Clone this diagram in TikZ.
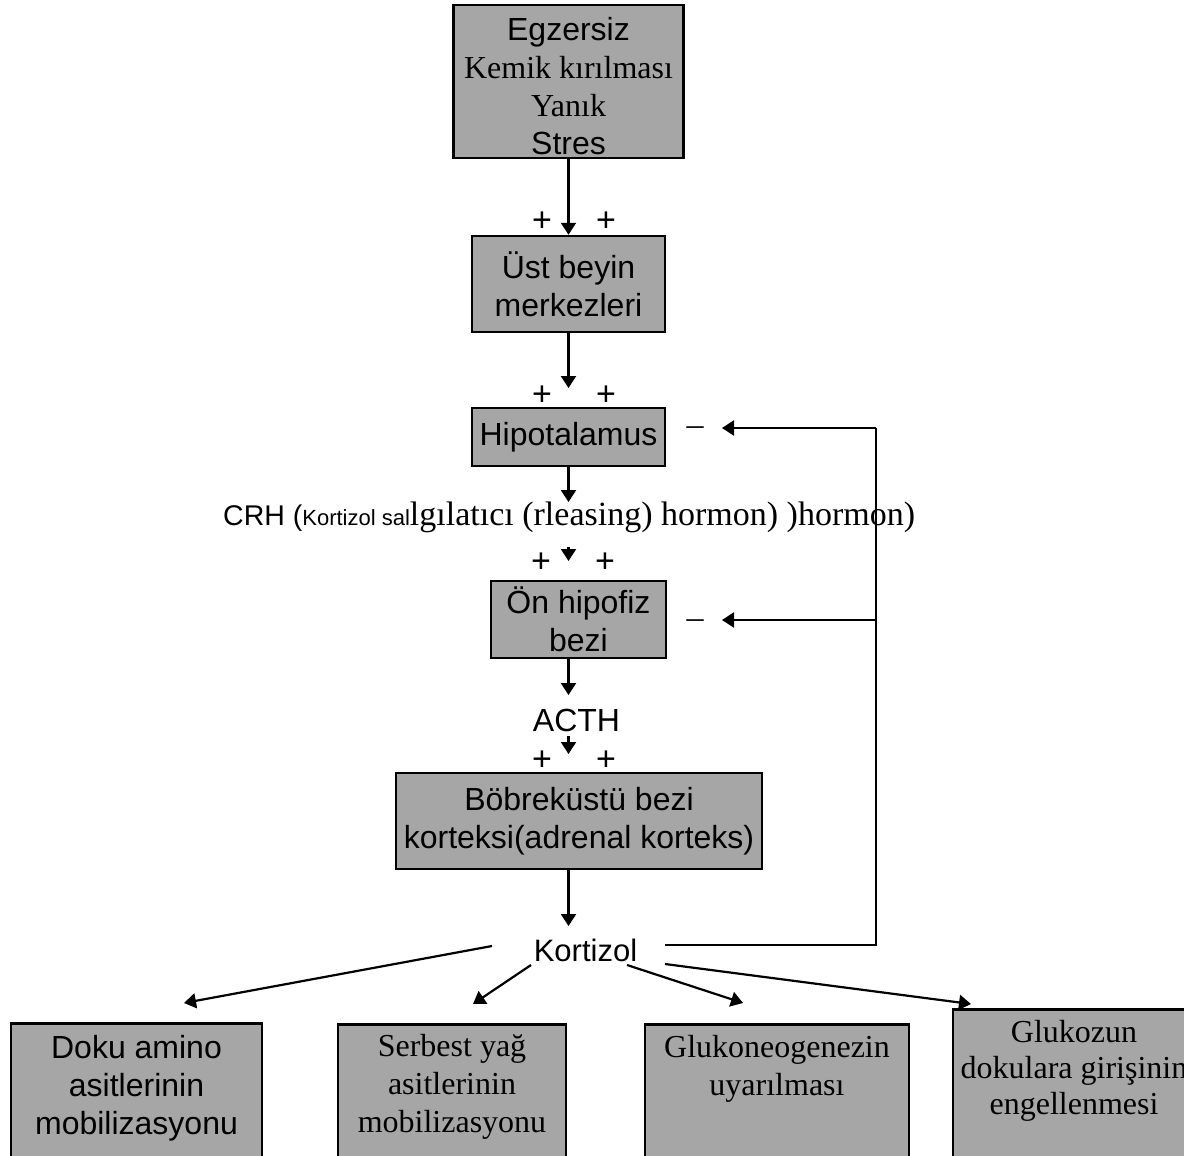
\documentclass[tikz,border=0pt]{standalone}
\usepackage{fontspec}
\setmainfont{Liberation Serif}
\newfontfamily\arialf{Liberation Sans}
\newfontfamily\tnrf{Liberation Serif}
\usetikzlibrary{arrows.meta,calc}
\definecolor{boxgray}{RGB}{166,166,166}
\begin{document}
\begin{tikzpicture}[x=1pt,y=-1pt,
  box/.style={draw=black, line width=2.5pt, fill=boxgray, inner sep=0pt, align=center},
  arr/.style={line width=2.2pt, -{Triangle[width=15pt,length=12pt]}},
  ln/.style={line width=2.2pt},
  sf/.style={font=\arialf\fontsize{32}{38}\selectfont, align=center, inner sep=0pt},
  rm/.style={font=\tnrf\fontsize{32}{38}\selectfont, align=center, inner sep=0pt},
  plus/.style={font=\arialf\fontsize{34}{36}\selectfont, inner sep=0pt},
  minus/.style={font=\tnrf\fontsize{34}{36}\selectfont, inner sep=0pt}]
\useasboundingbox (0,0) rectangle (1184,1156);
\clip (0,0) rectangle (1184,1156);

% main chain boxes
\node[box, minimum width=230pt, minimum height=153pt] (top) at (568.5,81.5) {};
\node[align=center, inner sep=0pt, font=\fontsize{32}{38}\selectfont] (topt) at (568.5,86)
  {\arialf Egzersiz\\\tnrf Kemik kırılması\\\tnrf Yanık\\\arialf Stres};
\node[box, sf, minimum width=193pt, minimum height=96pt] (ust) at (568.5,284) {Üst beyin\\merkezleri};
\node[box, sf, minimum width=193pt, minimum height=58pt] (hipo) at (568.5,437) {Hipotalamus};
\node[box, sf, minimum width=175pt, minimum height=77pt] (on) at (578.5,619.5) {Ön hipofiz\\bezi};
\node[box, sf, minimum width=366pt, minimum height=96pt] (bob) at (579,821) {Böbreküstü bezi\\korteksi(adrenal korteks)};

% labels
\node[anchor=base west, inner sep=0pt] (crh) at (223,525)
  {{\arialf\fontsize{28.5}{38}\selectfont CRH (}{\arialf\fontsize{22}{25}\selectfont Kortizol sal}{\tnrf\fontsize{34}{38}\selectfont lgılatıcı (rleasing) hormon) )hormon)}};
\node[sf] (acth) at (576.5,720) {ACTH};
\node[font=\arialf\fontsize{31}{38}\selectfont, inner sep=0pt] (kort) at (585.5,950) {Kortizol};

% plus and minus signs
\node[plus] (p1a) at (542,222) {+};
\node[plus] (p1b) at (606,222) {+};
\node[plus] (p2a) at (542,396) {+};
\node[plus] (p2b) at (606,396) {+};
\node[plus] (p3a) at (541,563) {+};
\node[plus] (p3b) at (605,563) {+};
\node[plus] (p4a) at (542,761) {+};
\node[plus] (p4b) at (606,761) {+};
\node[minus] (m1) at (695,431) {–};
\node[minus] (m2) at (695,624) {–};

% bottom boxes
\node[box, anchor=north, minimum width=251pt, minimum height=150pt] (doku) at (136.5,1022) {};
\node[box, anchor=north, minimum width=228pt, minimum height=150pt] (serb) at (452,1023) {};
\node[box, anchor=north, minimum width=264pt, minimum height=150pt] (gluk) at (777,1023) {};
\node[box, anchor=north, minimum width=243pt, minimum height=170pt] (glkz) at (1074.5,1008) {};
\node[sf] (dokut) at (136.5,1088) {Doku amino\\asitlerinin\\mobilizasyonu};
\node[rm] (serbt) at (452,1087) {Serbest yağ\\asitlerinin\\mobilizasyonu};
\node[rm] (glukt) at (777,1069) {Glukoneogenezin\\uyarılması};
\node[rm, font=\tnrf\fontsize{32}{36}\selectfont] (glkzt) at (1074,1071) {Glukozun\\dokulara girişinin\\engellenmesi};

% coordinates
\coordinate (ax) at (568.5,0);
\coordinate (t2) at (568.5,388);
\coordinate (t3) at (568.5,502);
\coordinate (s4) at (568.5,547);
\coordinate (t4) at (568.5,561);
\coordinate (t5) at (568.5,695);
\coordinate (s6) at (568.5,736);
\coordinate (t6) at (568.5,754);
\coordinate (t7) at (568.5,926);
\coordinate (fbr) at (876,945);
\coordinate (fbt) at (876,428);
\coordinate (fbm) at (876,620);
\coordinate (h1) at (722,428);
\coordinate (h2) at (722,620);
\coordinate (kL) at (492,946);
\coordinate (kA) at (531,965);
\coordinate (kB) at (627,965);
\coordinate (kC) at (665,964);
\coordinate (kR) at (665,945);
\coordinate (e1) at (184,1003);
\coordinate (e2) at (473,1004);
\coordinate (e3) at (743,1003);
\coordinate (e4) at (971,1004);

% connectors
\draw[arr] (top.south) -- (ust.north);
\draw[arr] (ust.south) -- (t2);
\draw[arr] (hipo.south) -- (t3);
\draw[arr] (s4) -- (t4);
\draw[arr] (on.south -| ax) -- (t5);
\draw[arr] (s6) -- (t6);
\draw[arr] (bob.south -| ax) -- (t7);

\draw[ln] (kR) -- (fbr) -- (fbt);
\draw[arr] (fbt) -- (h1);
\draw[arr] (fbm) -- (h2);

\draw[arr] (kL) -- (e1);
\draw[arr] (kA) -- (e2);
\draw[arr] (kB) -- (e3);
\draw[arr] (kC) -- (e4);
\end{tikzpicture}
\end{document}
